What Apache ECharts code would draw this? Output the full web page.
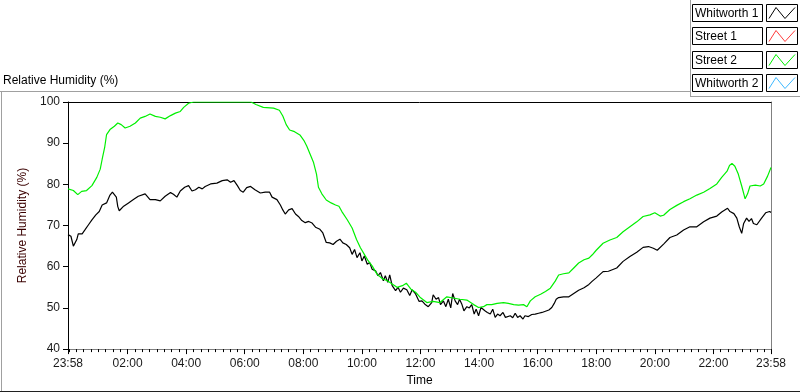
<!DOCTYPE html>
<html><head><meta charset="utf-8">
<script src="https://cdn.jsdelivr.net/npm/echarts@6/dist/echarts.min.js"></script>
<style>html,body{margin:0;padding:0;background:#fff}#c{width:800px;height:392px}</style>
</head><body><div id="c"></div>
<script>
const chartTitle = 'Relative Humidity (%)';
const seriesNames = ['Whitworth 1', 'Street 1', 'Street 2', 'Whitworth 2'];
const seriesColors = ['#000000', '#ff3b3b', '#00f000', '#3cb8ff'];

// minutes after 00:00 (start of record is 23:58 the evening before = -2)
const w1Minutes = [-2,4,9,12,16,19,27,33,40,47,55,62,68,77,84,89,93,97,100,103,112,122,132,142,156,166,177,187,197,208,214,221,228,237,245,252,259,266,273,279,290,303,314,324,331,338,345,351,357,364,372,381,392,402,411,416,426,433,438,443,450,457,464,470,477,484,491,498,505,514,520,527,534,541,548,555,561,568,575,580,585,590,596,600,605,611,616,621,628,633,638,644,648,653,657,662,669,674,679,685,692,698,703,710,717,723,729,736,743,746,752,757,761,767,772,777,782,786,791,796,800,805,809,815,820,825,830,834,839,844,848,852,857,863,868,873,878,883,889,894,898,904,909,914,919,924,930,934,941,948,955,962,969,976,983,989,994,998,1003,1013,1024,1034,1044,1055,1065,1072,1080,1094,1105,1109,1122,1135,1149,1163,1176,1187,1197,1205,1218,1231,1245,1259,1272,1286,1300,1313,1327,1337,1349,1354,1362,1368,1373,1378,1382,1388,1393,1398,1402,1409,1418,1427,1435,1438];
const w1Values = [67.8,67.4,65.0,65.4,66.6,68.0,68.0,69.0,70.2,71.4,72.6,73.4,75.0,75.5,77.4,78.1,78.3,76.9,74.6,73.6,74.7,75.5,76.3,77.1,77.7,76.3,76.3,76.0,77.1,78.0,77.6,76.9,78.4,79.3,79.7,78.4,78.7,79.3,78.9,79.5,80.1,80.3,80.9,81.1,80.5,80.9,79.7,78.5,78.1,79.2,79.5,78.7,77.9,78.1,78.1,76.9,76.3,75.0,73.8,72.8,73.8,74.1,72.8,72.2,71.2,70.7,71.0,70.6,69.6,69.1,68.2,65.9,65.8,65.4,66.2,66.7,65.8,65.4,64.6,63.0,64.2,62.2,63.4,61.4,62.6,60.6,61.0,59.4,59.0,57.8,58.6,56.6,57.8,56.2,58.0,55.4,54.2,55.0,53.8,54.8,54.4,53.0,54.4,53.4,51.6,51.7,50.9,50.3,51.3,53.2,52.1,52.5,50.8,51.7,50.3,52.1,50.0,53.5,51.7,50.8,52.1,50.8,49.3,50.3,50.0,50.8,48.5,49.7,48.1,50.1,50.3,49.3,48.9,48.5,49.7,47.7,48.5,48.1,48.9,47.7,47.3,48.1,47.6,48.7,47.7,48.1,47.3,48.1,47.9,48.4,48.5,48.7,48.9,49.2,49.5,50.1,51.1,52.1,52.5,52.7,52.7,53.5,54.3,54.9,55.7,56.5,57.3,58.8,58.9,58.5,59.7,61.3,62.5,63.5,64.7,64.9,64.5,64.0,65.5,67.1,67.7,68.9,69.7,69.7,70.9,71.8,72.3,73.3,74.2,73.4,72.9,71.8,69.7,68.1,70.5,71.8,71.0,71.7,70.5,70.2,71.7,73.1,73.4,73.2];

const s2Minutes = [-2,9,18,26,36,47,57,64,68,73,77,84,93,100,107,115,125,136,146,156,166,177,187,197,208,218,228,235,245,255,373,383,398,419,431,438,445,452,462,473,481,487,494,501,507,511,518,527,537,546,553,559,570,580,589,597,605,612,621,631,642,652,662,672,683,691,700,710,719,733,746,760,774,787,801,815,829,839,849,856,866,877,890,900,911,921,931,938,945,955,966,976,986,996,1003,1013,1024,1034,1044,1055,1065,1072,1080,1094,1108,1122,1135,1149,1163,1176,1190,1200,1211,1218,1231,1245,1259,1272,1286,1300,1313,1327,1337,1348,1353,1358,1364,1371,1378,1385,1390,1395,1406,1416,1423,1431,1438];
const s2Values = [78.9,78.5,77.5,78.3,78.5,79.7,81.7,83.7,86.1,88.9,92.1,93.3,94.1,94.9,94.5,93.7,94.1,94.9,96.1,96.5,97.1,96.5,96.3,95.9,96.7,97.3,97.7,98.7,99.7,100,100,99.4,98.7,98.5,98.0,96.6,94.5,93.2,92.8,92.0,90.7,89.3,87.3,85.3,82.5,79.3,77.7,76.2,75.5,75.0,74.7,73.4,71.4,69.4,66.6,64.6,63.0,61.6,60.2,58.2,57.1,56.6,55.8,55.0,55.4,56.0,54.6,53.8,52.6,51.3,51.6,51.3,52.7,52.4,52.1,51.9,50.8,50.1,50.3,50.8,50.8,51.1,51.3,51.1,50.8,50.7,50.8,50.3,51.7,52.7,53.3,54.0,54.8,56.5,58.0,58.3,58.5,59.7,60.9,61.7,62.1,62.9,64.0,65.7,66.5,67.1,68.5,69.7,70.9,72.2,72.6,73.1,72.3,72.5,73.9,74.9,75.8,76.5,77.4,78.1,79.0,80.1,81.7,83.2,84.6,85.1,84.4,82.5,79.6,76.5,77.7,79.6,79.8,79.6,80.1,82.0,84.1];

const s1Minutes = [], s1Values = [];
const w2Minutes = [], w2Values = [];

const majorTicks = [-2,120,240,360,480,600,720,840,960,1080,1200,1320,1438];
const yMin = 40, yMax = 100, yStep = 10;

const zip = (a, b) => a.map((t, i) => [t, b[i]]);
const seriesData = [zip(w1Minutes, w1Values), zip(s1Minutes, s1Values), zip(s2Minutes, s2Values), zip(w2Minutes, w2Values)];

const minorTicks = [];
for (let m = 0; m < 1440; m += 15) minorTicks.push(m);

const FONT = "'Liberation Sans', Arial, sans-serif";
const fmt = v => {
  const m = ((Math.round(v) % 1440) + 1440) % 1440;
  const h = Math.floor(m / 60), mm = m % 60;
  return String(h).padStart(2, '0') + ':' + String(mm).padStart(2, '0');
};

const GL = 68, GT = 102, GW = 703, GH = 250;

const legendGraphics = [];
seriesNames.forEach((name, i) => {
  const y = 4.5 + Math.round(i * 23.3);
  legendGraphics.push({type: 'rect', shape: {x: 692.5, y: y, width: 70, height: 17}, style: {fill: '#fff', stroke: '#000', lineWidth: 1}, silent: true});
  legendGraphics.push({type: 'text', x: 695, y: y + 9, style: {text: name, font: '12px ' + FONT, fill: '#000', verticalAlign: 'middle', align: 'left'}, silent: true});
  legendGraphics.push({type: 'rect', shape: {x: 766.5, y: y, width: 31, height: 17}, style: {fill: '#fff', stroke: '#000', lineWidth: 1}, silent: true});
  legendGraphics.push({type: 'polyline', shape: {points: [[769, y + 14], [776, y + 3], [785, y + 14], [795, y + 3]]}, style: {stroke: seriesColors[i], lineWidth: 1, fill: null}, silent: true});
});

const frameGraphics = [
  {type: 'line', shape: {x1: 0, y1: 91.5, x2: 690, y2: 91.5}, style: {stroke: '#a0a0a0', lineWidth: 1}, silent: true},
  {type: 'line', shape: {x1: 690.5, y1: 0, x2: 690.5, y2: 96}, style: {stroke: '#a0a0a0', lineWidth: 1}, silent: true},
  {type: 'line', shape: {x1: 690, y1: 96.5, x2: 800, y2: 96.5}, style: {stroke: '#a0a0a0', lineWidth: 1}, silent: true},
  {type: 'line', shape: {x1: 1.5, y1: 91, x2: 1.5, y2: 391}, style: {stroke: '#a0a0a0', lineWidth: 1}, silent: true},
  {type: 'line', shape: {x1: 0, y1: 391.5, x2: 800, y2: 391.5}, style: {stroke: '#202020', lineWidth: 1}, silent: true}
];

const chart = echarts.init(document.getElementById('c'), null, {renderer: 'canvas'});
chart.setOption({
  animation: false,
  backgroundColor: '#fff',
  textStyle: {fontFamily: FONT},
  title: {text: chartTitle, left: 3, top: 75, padding: 0, textStyle: {fontSize: 12, fontWeight: 'normal', color: '#000', fontFamily: FONT}},
  grid: {left: GL, top: GT, width: GW, height: GH, show: false},
  xAxis: [
    {type: 'value', min: -2, max: 1438, position: 'bottom',
     name: 'Time', nameLocation: 'middle', nameGap: 25, nameTextStyle: {fontSize: 12, color: '#000', fontFamily: FONT},
     axisLine: {show: true, onZero: false, lineStyle: {color: '#808080', width: 1}},
     axisTick: {show: true, customValues: majorTicks, length: 5, lineStyle: {color: '#000'}},
     axisLabel: {show: true, customValues: majorTicks, formatter: fmt, margin: 9, fontSize: 12, color: '#1a1a1a', fontFamily: FONT, showMinLabel: true, showMaxLabel: true},
     splitLine: {show: false}},
    {type: 'value', min: -2, max: 1438, position: 'bottom',
     axisLine: {show: false, onZero: false},
     axisTick: {show: true, customValues: minorTicks, length: 3, lineStyle: {color: '#000'}},
     axisLabel: {show: false}, splitLine: {show: false}},
    {type: 'value', min: -2, max: 1438, position: 'top',
     axisLine: {show: true, onZero: false, lineStyle: {color: '#000', width: 1}},
     axisTick: {show: false}, axisLabel: {show: false}, splitLine: {show: false}}
  ],
  yAxis: [
    {type: 'value', min: yMin, max: yMax, interval: yStep, position: 'left',
     name: 'Relative Humidity (%)', nameLocation: 'middle', nameRotate: 90, nameGap: 28,
     nameTextStyle: {fontSize: 12, color: '#3a0000', fontFamily: FONT},
     axisLine: {show: true, onZero: false, lineStyle: {color: '#000', width: 1}},
     axisTick: {show: true, length: 5, lineStyle: {color: '#000'}},
     axisLabel: {show: true, margin: 8, fontSize: 12, color: '#1a1a1a', fontFamily: FONT},
     splitLine: {show: false}},
    {type: 'value', min: yMin, max: yMax, position: 'right',
     axisLine: {show: true, onZero: false, lineStyle: {color: '#808080', width: 1}},
     axisTick: {show: false}, axisLabel: {show: false}, splitLine: {show: false}}
  ],
  series: seriesNames.map((name, i) => ({
    name: name, type: 'line', xAxisIndex: 0, yAxisIndex: 0,
    data: seriesData[i], showSymbol: false, symbol: 'none',
    lineStyle: {color: seriesColors[i], width: 1.2}, itemStyle: {color: seriesColors[i]},
    silent: true
  })),
  graphic: frameGraphics.concat(legendGraphics)
});
</script></body></html>
